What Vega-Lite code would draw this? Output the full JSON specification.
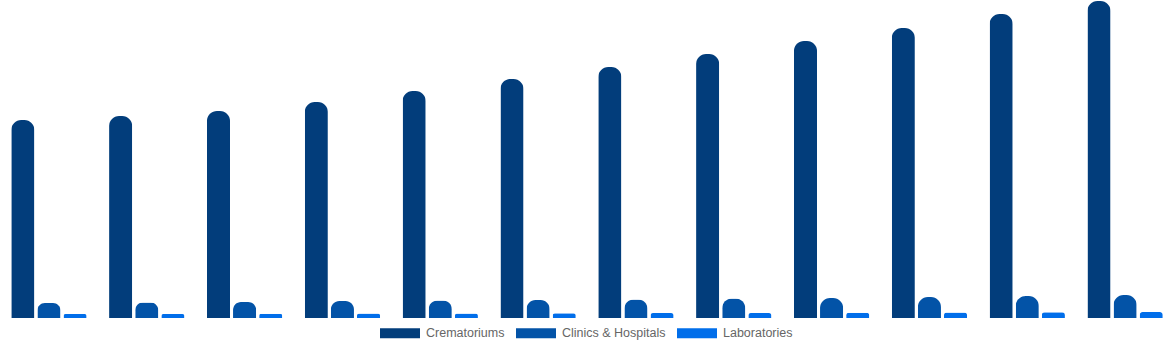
{
  "$schema": "https://vega.github.io/schema/vega-lite/v6.json",
  "width": 1174,
  "height": 318,
  "padding": {"left": 0, "right": 0, "top": 0, "bottom": 32},
  "autosize": {"type": "none"},
  "config": {"view": {"stroke": null}},
  "data": {"values": [
    {"g": "1", "s": "Crematoriums", "v": 198}, {"g": "1", "s": "Clinics & Hospitals", "v": 15}, {"g": "1", "s": "Laboratories", "v": 4},
    {"g": "2", "s": "Crematoriums", "v": 202}, {"g": "2", "s": "Clinics & Hospitals", "v": 15.5}, {"g": "2", "s": "Laboratories", "v": 4},
    {"g": "3", "s": "Crematoriums", "v": 207}, {"g": "3", "s": "Clinics & Hospitals", "v": 16}, {"g": "3", "s": "Laboratories", "v": 4.2},
    {"g": "4", "s": "Crematoriums", "v": 216}, {"g": "4", "s": "Clinics & Hospitals", "v": 17}, {"g": "4", "s": "Laboratories", "v": 4.5},
    {"g": "5", "s": "Crematoriums", "v": 227}, {"g": "5", "s": "Clinics & Hospitals", "v": 17.5}, {"g": "5", "s": "Laboratories", "v": 4.6},
    {"g": "6", "s": "Crematoriums", "v": 239}, {"g": "6", "s": "Clinics & Hospitals", "v": 18}, {"g": "6", "s": "Laboratories", "v": 4.8},
    {"g": "7", "s": "Crematoriums", "v": 251}, {"g": "7", "s": "Clinics & Hospitals", "v": 18.5}, {"g": "7", "s": "Laboratories", "v": 5},
    {"g": "8", "s": "Crematoriums", "v": 264}, {"g": "8", "s": "Clinics & Hospitals", "v": 19.5}, {"g": "8", "s": "Laboratories", "v": 5},
    {"g": "9", "s": "Crematoriums", "v": 277}, {"g": "9", "s": "Clinics & Hospitals", "v": 20}, {"g": "9", "s": "Laboratories", "v": 5.3},
    {"g": "10", "s": "Crematoriums", "v": 290}, {"g": "10", "s": "Clinics & Hospitals", "v": 21}, {"g": "10", "s": "Laboratories", "v": 5.5},
    {"g": "11", "s": "Crematoriums", "v": 304}, {"g": "11", "s": "Clinics & Hospitals", "v": 22}, {"g": "11", "s": "Laboratories", "v": 5.8},
    {"g": "12", "s": "Crematoriums", "v": 317}, {"g": "12", "s": "Clinics & Hospitals", "v": 23}, {"g": "12", "s": "Laboratories", "v": 6}
  ]},
  "mark": {"type": "bar", "cornerRadiusTopLeft": 10, "cornerRadiusTopRight": 10},
  "encoding": {
    "x": {"field": "g", "type": "nominal", "sort": null, "axis": null,
          "scale": {"paddingInner": 0.23, "paddingOuter": 0.115}},
    "xOffset": {"field": "s", "type": "nominal", "sort": ["Crematoriums", "Clinics & Hospitals", "Laboratories"],
                "scale": {"paddingInner": 0.115, "paddingOuter": 0}},
    "y": {"field": "v", "type": "quantitative", "axis": null,
          "scale": {"domain": [0, 318], "nice": false, "zero": true}},
    "color": {"field": "s", "type": "nominal", "sort": ["Crematoriums", "Clinics & Hospitals", "Laboratories"],
              "scale": {"domain": ["Crematoriums", "Clinics & Hospitals", "Laboratories"], "range": ["#023d7b", "#0353a7", "#016eea"]},
              "legend": {"orient": "none", "legendX": 380, "legendY": 313, "direction": "horizontal", "title": null,
                         "symbolType": "M-1,-0.25H1V0.25H-1Z", "symbolSize": 1600, "symbolStrokeWidth": 0,
                         "symbolOpacity": 1,
                         "labelFont": "Liberation Sans", "labelFontSize": 12.5, "labelColor": "#666666",
                         "columnPadding": 11, "labelOffset": 6}}
  }
}
